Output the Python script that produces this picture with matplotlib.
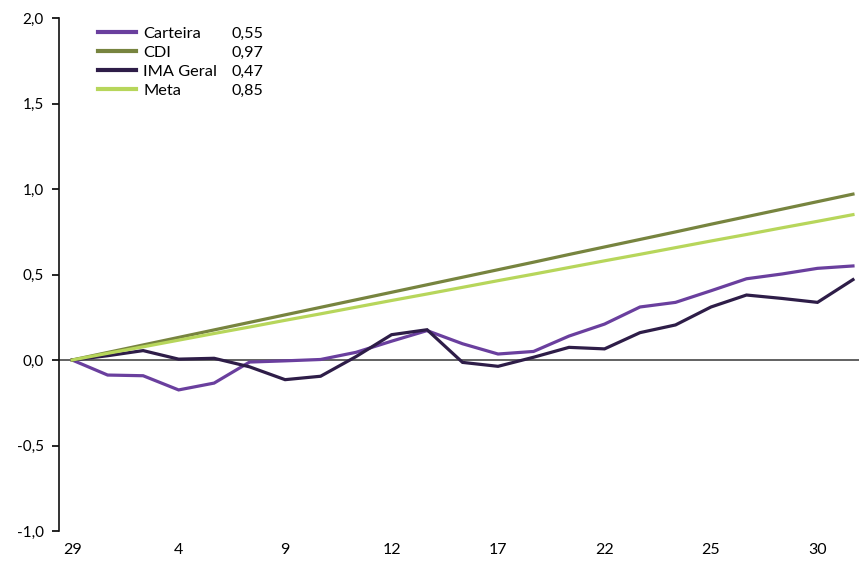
import matplotlib
matplotlib.use("Agg")
import matplotlib.pyplot as plt
from matplotlib.ticker import FuncFormatter

# ───────────────────────── Data ─────────────────────────
dias = ["29", "2", "3", "4", "5", "6", "9", "10", "11", "12", "13", "16",
        "17", "18", "19", "22", "23", "24", "25", "26", "29", "30", "31"]

carteira = [0.0, -0.088, -0.092, -0.175, -0.135, -0.012, -0.005, 0.003, 0.045, 0.11,
            0.172, 0.095, 0.035, 0.05, 0.14, 0.21, 0.31, 0.337, 0.405, 0.475,
            0.503, 0.536, 0.55]
cdi = [0.0, 0.044, 0.088, 0.132, 0.176, 0.220, 0.264, 0.308, 0.352, 0.396,
       0.440, 0.484, 0.528, 0.572, 0.617, 0.661, 0.705, 0.749, 0.794, 0.838,
       0.882, 0.926, 0.97]
ima_geral = [0.0, 0.025, 0.055, 0.005, 0.01, -0.04, -0.115, -0.095, 0.02, 0.148,
             0.177, -0.014, -0.037, 0.016, 0.074, 0.065, 0.16, 0.205, 0.31, 0.38,
             0.36, 0.337, 0.47]
meta = [0.0, 0.039, 0.077, 0.116, 0.155, 0.193, 0.232, 0.270, 0.309, 0.348,
        0.386, 0.425, 0.464, 0.502, 0.541, 0.580, 0.618, 0.657, 0.696, 0.734,
        0.773, 0.811, 0.85]

series_names = ["Carteira", "CDI", "IMA Geral", "Meta"]
series_values = [carteira, cdi, ima_geral, meta]
series_colors = ["#6a3f9e", "#77843f", "#2e1d48", "#b7d65b"]
ultimos = ["0,55", "0,97", "0,47", "0,85"]

# ───────────────────────── Figure ─────────────────────────
plt.rcParams["font.family"] = ["Lato", "DejaVu Sans"]

W, H = 859, 561
fig = plt.figure(figsize=(W / 100, H / 100), dpi=100)
ax = fig.add_axes([59 / W, 1 - 531 / H, (W - 59) / W, (531 - 18) / H])

x = list(range(len(dias)))
handles = []
for name, vals, col in zip(series_names, series_values, series_colors):
    h, = ax.plot(x, vals, color=col, lw=2.3, label=name, solid_joinstyle="miter")
    handles.append(h)

ax.axhline(0, color="#555555", lw=1.3, zorder=0)

ax.set_ylim(-1.0, 2.0)
ax.set_yticks([-1.0, -0.5, 0.0, 0.5, 1.0, 1.5, 2.0])
ax.yaxis.set_major_formatter(FuncFormatter(lambda v, p: f"{v:.1f}".replace(".", ",")))
ax.set_xlim(-0.37, 22.17)
ax.set_xticks(x[::3])
ax.set_xticklabels(dias[::3])

for s in ["top", "right", "bottom"]:
    ax.spines[s].set_visible(False)
ax.spines["left"].set_linewidth(1.2)
ax.spines["left"].set_color("#111111")

ax.tick_params(axis="y", direction="out", length=5, width=1.2, pad=6, labelsize=11)
ax.tick_params(axis="x", length=0, pad=9, labelsize=11.5)

leg = ax.legend(handles=handles, loc="upper left", bbox_to_anchor=(0.039, 1.0),
                frameon=False, fontsize=11.8, handlelength=2.3, handletextpad=0.45,
                labelspacing=0.28, borderaxespad=0.1)
for lh in leg.get_lines():
    lh.set_linewidth(3)

# valores ao lado da legenda
fig.canvas.draw()
inv = fig.transFigure.inverted()
for t, val in zip(leg.get_texts(), ultimos):
    bb = t.get_window_extent()
    yc = (bb.y0 + bb.y1) / 2
    fx, fy = inv.transform((232, yc))
    fig.text(fx, fy, val, fontsize=11.6, va="center", ha="left")

fig.savefig("out.png", dpi=100)
